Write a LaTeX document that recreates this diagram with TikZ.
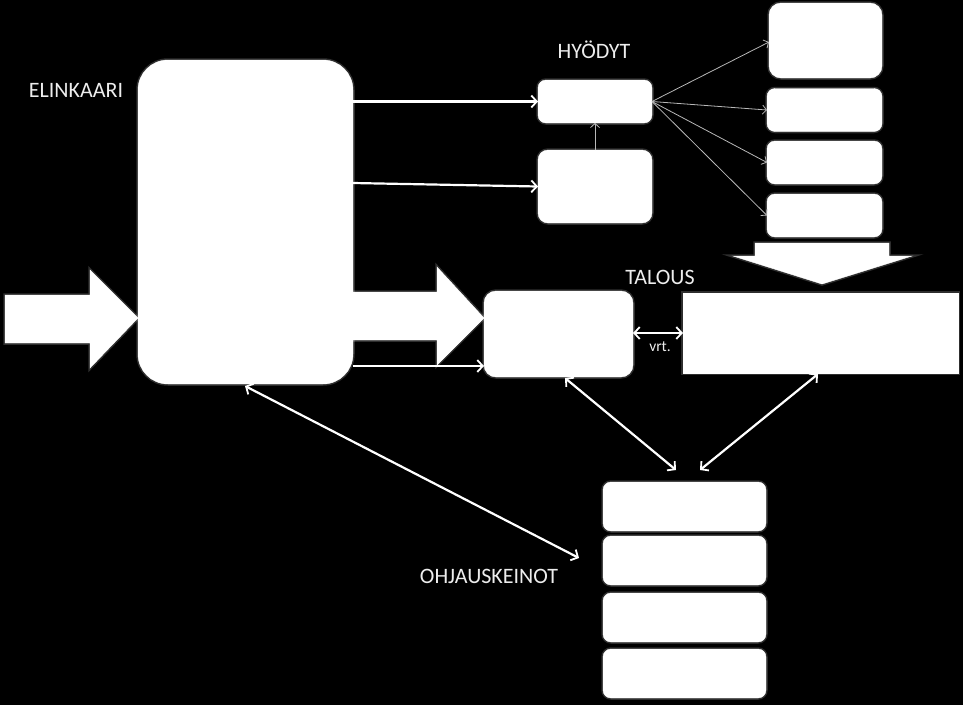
\documentclass[tikz,border=0pt]{standalone}
\usepackage{fontspec}
\setmainfont{Carlito}
\usetikzlibrary{arrows.meta}
\begin{document}
\begin{tikzpicture}[x=1pt,y=-1pt,
  glow/.style={preaction={draw=white,opacity=0.18,line width=3.5pt}},
  wbox/.style={fill=white,draw=white,glow,inner sep=0pt,outer sep=0pt,rounded corners=#1},
  wbox/.default=8pt,
  lbl/.style={text=white!93!black,font=\fontsize{22}{25}\selectfont,inner sep=0pt},
  conn/.style={draw=white,line width=2.2pt,-{Straight Barb[length=5.5pt,width=12pt,line width=1.8pt]}},
  dconn/.style={draw=white,line width=2.2pt,{Straight Barb[length=5.5pt,width=12pt,line width=1.8pt]}-{Straight Barb[length=5.5pt,width=12pt,line width=1.8pt]}},
  thin/.style={draw=white!72!black,line width=0.8pt,-{Straight Barb[length=4pt,width=9pt,line width=0.8pt]}},
  bigarrow/.style={fill=white,draw=white,glow}
]
\useasboundingbox[fill=black] (0,0) rectangle (963,705);

% main boxes
\node[wbox=30pt,minimum width=215pt,minimum height=324pt] (elink) at (245.5,222) {};
\node[wbox=8pt,minimum width=114pt,minimum height=43pt] (hy) at (595,101.5) {};
\node[wbox=10pt,minimum width=114pt,minimum height=73pt] (hylow) at (595,186.5) {};
\node[wbox=12pt,minimum width=113pt,minimum height=75pt] (r1) at (825.5,40.5) {};
\node[wbox=8pt,minimum width=115pt,minimum height=43pt] (r2) at (824.5,110) {};
\node[wbox=8pt,minimum width=115pt,minimum height=43pt] (r3) at (824.5,162.5) {};
\node[wbox=8pt,minimum width=115pt,minimum height=43pt] (r4) at (824.5,215.5) {};
\node[wbox=12pt,minimum width=149pt,minimum height=86pt] (tbox) at (558.5,334) {};
\node[wbox=0pt,minimum width=275pt,minimum height=80pt] (trect) at (820.5,333) {};
\node[wbox=8pt,minimum width=163pt,minimum height=49pt] (o1) at (684.5,506.5) {};
\node[wbox=8pt,minimum width=163pt,minimum height=49pt] (o2) at (684.5,560.5) {};
\node[wbox=8pt,minimum width=163pt,minimum height=49pt] (o3) at (684.5,617.5) {};
\node[wbox=8pt,minimum width=163pt,minimum height=49pt] (o4) at (684.5,673.5) {};

% labels
\node[lbl] (lel) at (76,90) {ELINKAARI};
\node[lbl] (lhy) at (594,50) {HYÖDYT};
\node[lbl] (lta) at (660,277) {TALOUS};
\node[lbl] (loh) at (489,576) {OHJAUSKEINOT};
\node[lbl,font=\fontsize{15.5}{17}\selectfont] (lvrt) at (660,347) {vrt.};

% big arrows
\draw[bigarrow] (5,295) -- (90,295) -- (90,270) -- (elink.west |- 0,318) -- (90,368) -- (90,343) -- (5,343) -- cycle;
\draw[bigarrow] (elink.east |- 0,292) -- (437,292) -- (437,267) -- (tbox.west |- 0,318) -- (437,365) -- (437,340) -- (elink.east |- 0,340) -- cycle;
\draw[bigarrow] (755,243) -- (889,243) -- (889,256) -- (912,256) -- (822,284) -- (733,256) -- (755,256) -- cycle;

% connectors
\draw[conn] (elink.east |- hy.west) -- (hy.west);
\draw[conn] (elink.east |- 0,183) -- (hylow.west);
\draw[conn] (elink.east |- 0,366) -- (tbox.west |- 0,366);
\draw[thin] (hylow.north) -- (hy.south);
\draw[thin] (hy.east) -- (r1.west |- 0,42);
\draw[thin] (hy.east) -- (r2.west);
\draw[thin] (hy.east) -- (r3.west);
\draw[thin] (hy.east) -- (r4.west);
\draw[dconn] (tbox.east |- 0,333) -- (trect.west |- 0,333);

\coordinate (e1) at (565,378);
\coordinate (f1) at (676,470);
\coordinate (e2) at (818,374);
\coordinate (f2) at (700,470);
\coordinate (e3) at (245,386);
\coordinate (f3) at (579,558);
\draw[dconn] (e1) -- (f1);
\draw[dconn] (e2) -- (f2);
\draw[dconn] (e3) -- (f3);
\end{tikzpicture}
\end{document}
